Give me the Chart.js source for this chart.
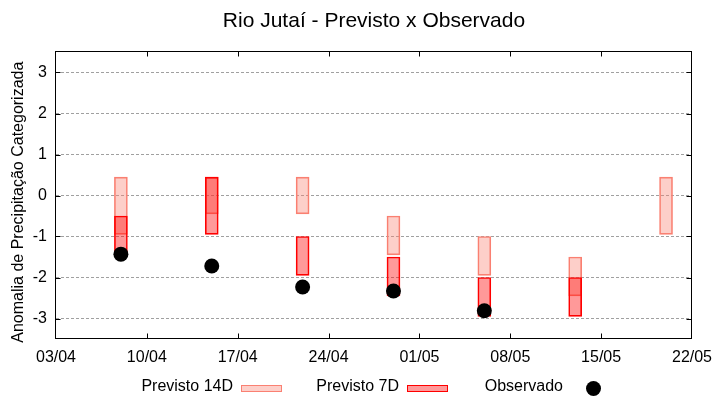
<!DOCTYPE html>
<html>
<head>
<meta charset="utf-8">
<script src="https://cdn.jsdelivr.net/npm/chart.js@4.4.1/dist/chart.umd.min.js"></script>
<style>
  html, body { margin: 0; padding: 0; background: #fff; }
  #wrap { position: relative; width: 720px; height: 400px; font-family: "Liberation Sans", Arial, sans-serif; color: #000; }
  #wrap canvas { position: absolute; left: 0; top: 0; }
  .txt { position: absolute; font-size: 16px; line-height: 16px; white-space: nowrap; }
  #title { left: 56px; width: 636px; top: 9px; text-align: center; font-size: 21px; line-height: 21px; }
  .swatch { position: absolute; box-sizing: border-box; width: 41px; height: 7px; border: 1px solid; }
  .dot { position: absolute; width: 15px; height: 15px; border-radius: 50%; background: #000; }
</style>
</head>
<body>
<div id="wrap">
  <canvas id="chart" width="720" height="400"></canvas>
  <div id="title" class="txt">Rio Jutaí - Previsto x Observado</div>

  <!-- legenda no estilo gnuplot: texto à esquerda, amostra à direita -->
  <div class="txt" style="right: 487px; top: 378px;">Previsto 14D</div>
  <div class="swatch" style="left: 241px; top: 385px; background: rgba(250,128,114,0.38); border-color: rgb(250,128,114);"></div>
  <div class="txt" style="right: 321px; top: 378px;">Previsto 7D</div>
  <div class="swatch" style="left: 407px; top: 385px; background: rgba(255,0,0,0.4); border-color: rgb(255,0,0);"></div>
  <div class="txt" style="right: 157px; top: 378px;">Observado</div>
  <div class="dot" style="left: 586px; top: 381px;"></div>
</div>

<script>
// datas das previsões (dd/mm)
const dates = ["08/04", "15/04", "22/04", "29/04", "06/05", "13/05", "20/05"];

// faixa prevista 14 dias
const prev14Max = [0.45, 0.45, 0.45, -0.5, -1.0, -1.5, 0.45];
const prev14Min = [-0.95, -0.45, -0.45, -1.45, -1.95, -2.45, -0.95];

// faixa prevista 7 dias
const prev7Max = [-0.5, 0.45, -1.0, -1.5, -2.0, -2.0, null];
const prev7Min = [-1.45, -0.95, -1.95, -2.45, -2.95, -2.95, null];

// anomalia observada
const observado = [-1.43, -1.72, -2.23, -2.33, -2.81, null, null];

// eixos
const xTickLabels = ["03/04", "10/04", "17/04", "24/04", "01/05", "08/05", "15/05", "22/05"];
const yTickLabels = ["-3", "-2", "-1", "0", "1", "2", "3"];

// dias desde 03/04
function dayOf(s) {
    const [d, m] = s.split("/").map(Number);
    return (Date.UTC(2024, m - 1, d) - Date.UTC(2024, 3, 3)) / 86400000;
}

function rangeData(maxArr, minArr) {
    const out = [];
    dates.forEach((d, i) => {
        if (maxArr[i] !== null) out.push({ x: dayOf(d), y: [minArr[i], maxArr[i]] });
    });
    return out;
}

const obsData = [];
dates.forEach((d, i) => {
    if (observado[i] !== null) obsData.push({ x: dayOf(d), y: observado[i] });
});

// moldura + ticks para dentro (como no gnuplot)
const framePlugin = {
    id: "frame",
    afterDatasetsDraw(chart) {
        const { ctx, chartArea: a, scales } = chart;
        const L = Math.round(a.left) - 0.5, R = Math.round(a.right) - 0.5;
        const T = Math.round(a.top) - 0.5, B = Math.round(a.bottom) - 0.5;
        ctx.save();
        ctx.strokeStyle = "#000";
        ctx.lineWidth = 1;
        ctx.beginPath();
        scales.y.ticks.forEach(t => {
            const y = Math.round(scales.y.getPixelForValue(t.value)) + 0.5;
            ctx.moveTo(L, y); ctx.lineTo(L + 5, y);
            ctx.moveTo(R, y); ctx.lineTo(R - 5, y);
        });
        scales.x.ticks.forEach((t, i) => {
            if (i === 0 || i === scales.x.ticks.length - 1) return;
            const x = Math.round(scales.x.getPixelForValue(t.value)) + 0.5;
            ctx.moveTo(x, B); ctx.lineTo(x, B - 5);
            ctx.moveTo(x, T); ctx.lineTo(x, T + 5);
        });
        ctx.stroke();
        ctx.strokeRect(L, T, R - L, B - T);
        ctx.restore();
    }
};

Chart.defaults.font.family = "'Liberation Sans', Arial, sans-serif";
Chart.defaults.color = "#000";

new Chart(document.getElementById("chart"), {
    type: "bar",
    data: {
        datasets: [
            {
                label: "Previsto 14D",
                data: rangeData(prev14Max, prev14Min),
                backgroundColor: "rgba(250,128,114,0.38)",
                borderColor: "rgb(250,128,114)",
                borderWidth: 1,
                borderSkipped: false,
                barThickness: 13,
                grouped: false,
                order: 3
            },
            {
                label: "Previsto 7D",
                data: rangeData(prev7Max, prev7Min),
                backgroundColor: "rgba(255,0,0,0.4)",
                borderColor: "rgb(255,0,0)",
                borderWidth: 1,
                borderSkipped: false,
                barThickness: 13,
                grouped: false,
                order: 2
            },
            {
                type: "scatter",
                label: "Observado",
                data: obsData,
                backgroundColor: "#000",
                borderWidth: 0,
                pointRadius: 7.5,
                order: 1
            }
        ]
    },
    options: {
        responsive: false,
        animation: false,
        layout: { padding: { top: 52, right: 28, bottom: 0, left: 0 } },
        plugins: {
            legend: { display: false },
            tooltip: { enabled: false }
        },
        scales: {
            x: {
                type: "linear",
                offset: false,
                min: 0,
                max: 49,
                afterBuildTicks: s => { s.ticks = xTickLabels.map((_, i) => ({ value: i * 7 })); },
                afterFit: s => { s.height = 61; },
                ticks: {
                    callback: (v, i) => xTickLabels[i],
                    font: { size: 16 },
                    padding: 1,
                    maxRotation: 0,
                    autoSkip: false
                },
                grid: { display: false, offset: false },
                border: { display: false }
            },
            y: {
                min: -3.5,
                max: 3.5,
                afterBuildTicks: s => { s.ticks = yTickLabels.map(v => ({ value: Number(v) })); },
                afterFit: s => { s.width = 56; },
                ticks: {
                    callback: (v, i) => yTickLabels[i],
                    font: { size: 16 },
                    padding: 9
                },
                grid: { color: "#a0a0a0", lineWidth: 1, drawTicks: false },
                border: { display: false, dash: [3, 2] },
                title: {
                    display: true,
                    text: "Anomalia de Precipitação Categorizada   ",
                    font: { size: 16 },
                    padding: { top: 9, bottom: 0 }
                }
            }
        }
    },
    plugins: [framePlugin]
});
</script>
</body>
</html>
